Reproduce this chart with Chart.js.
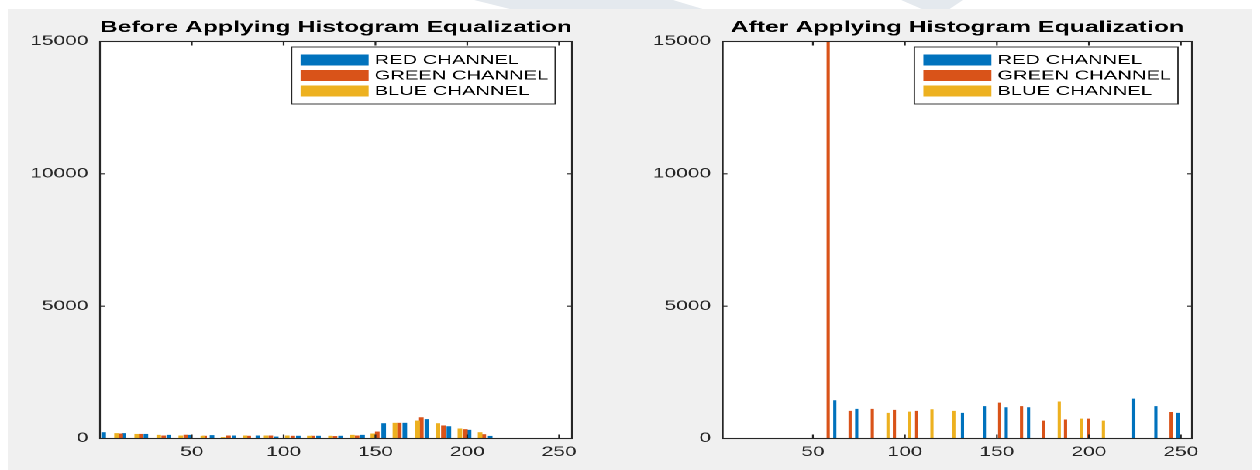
<!DOCTYPE html>
<html><head><meta charset="utf-8">
<script src="https://cdn.jsdelivr.net/npm/chart.js@4.4.1/dist/chart.umd.min.js"></script>
<style>
html,body{margin:0;padding:0;background:#fff;width:1260px;height:470px;overflow:hidden;}
#wm{position:absolute;left:0;top:0;width:1260px;height:10px;}
#fig{position:absolute;left:8px;top:9px;width:1244px;height:461px;background:#f0f0f0;}
#stretch{position:absolute;left:0;top:0;width:813px;height:470px;transform:scaleX(1.55);transform-origin:0 0;}
#c1{position:absolute;left:0;top:0;}
#c2{position:absolute;left:400px;top:0;}
</style></head><body>
<svg id="wm" width="1260" height="10"><polygon points="474,0 673,0 706,10 514,10" fill="#e4e9ee"/><polygon points="901,0 963,0 948,10 924,10" fill="#e4e9ee"/></svg>
<div id="fig"></div>
<div id="stretch"><canvas id="c1" width="400" height="470"></canvas><canvas id="c2" width="412" height="470"></canvas></div>
<script>
// ---- data ----
const SERIES_LABELS = ['RED CHANNEL', 'GREEN CHANNEL', 'BLUE CHANNEL'];
const X_TICKS = [50, 100, 150, 200, 250];
const Y_TICKS = [0, 5000, 10000, 15000];

// Before equalization
const beforeRedX   = [2, 13, 25, 37.5, 49, 61, 73, 86, 96, 108, 119, 131, 143, 154.5, 166, 178, 190, 201, 212.5];
const beforeRedY   = [225, 190, 160, 125, 125, 115, 100, 100, 60, 90, 90, 90, 125, 565, 580, 720, 450, 315, 85];
const beforeGreenX = [11.3, 22.3, 34.7, 46.7, 57, 70, 81, 93, 105, 116, 128, 140, 151, 163, 175, 187, 199, 209];
const beforeGreenY = [175, 160, 100, 130, 90, 100, 90, 100, 90, 90, 80, 100, 250, 580, 790, 480, 340, 150];
const beforeBlueX  = [9, 20, 32, 44, 56, 67, 79, 90.5, 102, 114, 125.5, 137.5, 148.6, 160.6, 173, 184, 196, 207];
const beforeBlueY  = [190, 160, 125, 100, 90, 40, 100, 100, 100, 90, 90, 125, 175, 580, 665, 565, 365, 225];

// After equalization
const afterRedX   = [61.9, 73.8, 131.3, 143.2, 155.1, 167.2, 224.4, 236.4, 248.4];
const afterRedY   = [1435, 1105, 955, 1210, 1170, 1170, 1495, 1210, 955];
const afterGreenX = [58.3, 70.2, 82.3, 94.3, 106.4, 151.5, 163.4, 175.4, 187.3, 199.6, 244.7];
const afterGreenY = [16500, 1030, 1105, 1070, 1030, 1345, 1210, 665, 705, 740, 990];
const afterBlueX  = [90.8, 102.6, 114.7, 126.6, 183.9, 195.8, 207.9];
const afterBlueY  = [955, 1005, 1095, 1030, 1385, 740, 665];

const COLORS = ['#0072BD', '#D95319', '#EDB120'];
const FONT = '"Liberation Sans", Arial, Helvetica, sans-serif';
const AXIS_COLOR = '#262626';

function pts(xs, ys) { return xs.map((x, i) => ({x: x, y: ys[i]})); }

const boxLegend = {
  id: 'boxLegend',
  afterDraw(chart, args, o) {
    const ctx = chart.ctx, ca = chart.chartArea;
    const ds = chart.data.datasets;
    ctx.save();
    ctx.font = '13px ' + FONT;
    const tw = Math.max(...ds.map(d => ctx.measureText(d.label).width));
    const w = o.padL + o.swatchW + o.gap + tw + o.padR;
    const h = o.rowH * ds.length + o.padV * 2;
    const x0 = ca.right - o.right - w, y0 = ca.top + o.top;
    ctx.fillStyle = '#fff';
    ctx.fillRect(x0, y0, w, h);
    ctx.strokeStyle = AXIS_COLOR;
    ctx.lineWidth = 0.9;
    ctx.strokeRect(x0, y0, w, h);
    ds.forEach((d, i) => {
      const cy = y0 + o.padV + o.rowH * (i + 0.5);
      ctx.fillStyle = d.backgroundColor;
      ctx.fillRect(x0 + o.padL, cy - o.swatchH / 2, o.swatchW, o.swatchH);
      ctx.fillStyle = '#000';
      ctx.textBaseline = 'middle';
      ctx.textAlign = 'left';
      ctx.fillText(d.label, x0 + o.padL + o.swatchW + o.gap, cy + 0.5);
    });
    ctx.restore();
  }
};

const axesBox = {
  id: 'axesBox',
  beforeDatasetsDraw(chart) {
    const ctx = chart.ctx, ca = chart.chartArea;
    ctx.save();
    ctx.fillStyle = '#fff';
    ctx.fillRect(ca.left, ca.top, ca.right - ca.left, ca.bottom - ca.top);
    ctx.restore();
  },
  afterDatasetsDraw(chart, args, o) {
    const ctx = chart.ctx, ca = chart.chartArea;
    const xs = chart.scales.x, ys = chart.scales.y;
    ctx.save();
    ctx.strokeStyle = AXIS_COLOR;
    ctx.lineWidth = 1.1;
    ctx.beginPath();
    xs.ticks.forEach(t => {
      const px = xs.getPixelForValue(t.value);
      ctx.moveTo(px, ca.bottom); ctx.lineTo(px, ca.bottom - o.tickV);
      ctx.moveTo(px, ca.top); ctx.lineTo(px, ca.top + o.tickV);
    });
    ys.ticks.forEach(t => {
      const py = ys.getPixelForValue(t.value);
      ctx.moveTo(ca.left, py); ctx.lineTo(ca.left + o.tickH, py);
      ctx.moveTo(ca.right, py); ctx.lineTo(ca.right - o.tickH, py);
    });
    ctx.stroke();
    ctx.strokeRect(ca.left, ca.top, ca.right - ca.left, ca.bottom - ca.top);
    ctx.restore();
  }
};

function makeChart(id, cfg) {
  const sets = [
    [cfg.rx, cfg.ry], [cfg.gx, cfg.gy], [cfg.bx, cfg.by]
  ].map((s, i) => ({
    label: SERIES_LABELS[i],
    data: pts(s[0], s[1]),
    backgroundColor: COLORS[i],
    borderWidth: 0,
    barThickness: cfg.barW,
    grouped: false,
    order: 3 - i
  }));
  return new Chart(document.getElementById(id), {
    type: 'bar',
    data: {datasets: sets},
    plugins: [axesBox, boxLegend],
    options: {
      responsive: false, animation: false, devicePixelRatio: 2,
      layout: {padding: {left: 0, right: cfg.padRight, top: 0, bottom: 0}},
      plugins: {
        legend: {display: false},
        tooltip: {enabled: false},
        title: {display: true, text: cfg.title, fullSize: false, color: '#000',
          font: {family: FONT, size: 16, weight: 'bold', lineHeight: 1.2},
          padding: {top: 17.9, bottom: 4.4}},
        axesBox: {tickV: 4, tickH: 3},
        boxLegend: {right: cfg.legRight, top: 5.5, padL: 5.8, swatchW: 43.9, swatchH: 11, gap: 3.9, padR: 4.5, rowH: 15.5, padV: 5.25}
      },
      scales: {
        x: {type: 'linear', min: cfg.xmin, max: cfg.xmax, offset: false,
          grid: {display: false, drawTicks: false}, border: {display: false},
          afterBuildTicks: s => { s.ticks = X_TICKS.map(v => ({value: v})); },
          afterFit: s => { s.height = 31.5; },
          ticks: {color: AXIS_COLOR, font: {family: FONT, size: 13.5}, padding: 5.6, maxRotation: 0, autoSkip: false,
            callback: v => String(v)}},
        y: {type: 'linear', min: 0, max: 15000,
          grid: {display: false, drawTicks: false}, border: {display: false},
          afterBuildTicks: s => { s.ticks = Y_TICKS.map(v => ({value: v})); },
          afterFit: s => { s.width = cfg.yWidth; },
          ticks: {color: AXIS_COLOR, font: {family: FONT, size: 13.5}, padding: 7.5,
            callback: v => String(v)}}
      }
    }
  });
}

makeChart('c1', {
  title: 'Before Applying Histogram Equalization',
  rx: beforeRedX, ry: beforeRedY, gx: beforeGreenX, gy: beforeGreenY, bx: beforeBlueX, by: beforeBlueY,
  xmin: 0, xmax: 257, barW: 2.3, padRight: 31, yWidth: 64.5, legRight: 10.8
});
makeChart('c2', {
  title: 'After Applying Histogram Equalization',
  rx: afterRedX, ry: afterRedY, gx: afterGreenX, gy: afterGreenY, bx: afterBlueX, by: afterBlueY,
  xmin: 1, xmax: 256, barW: 1.4, padRight: 43, yWidth: 66.3, legRight: 9
});
</script>
</body></html>
